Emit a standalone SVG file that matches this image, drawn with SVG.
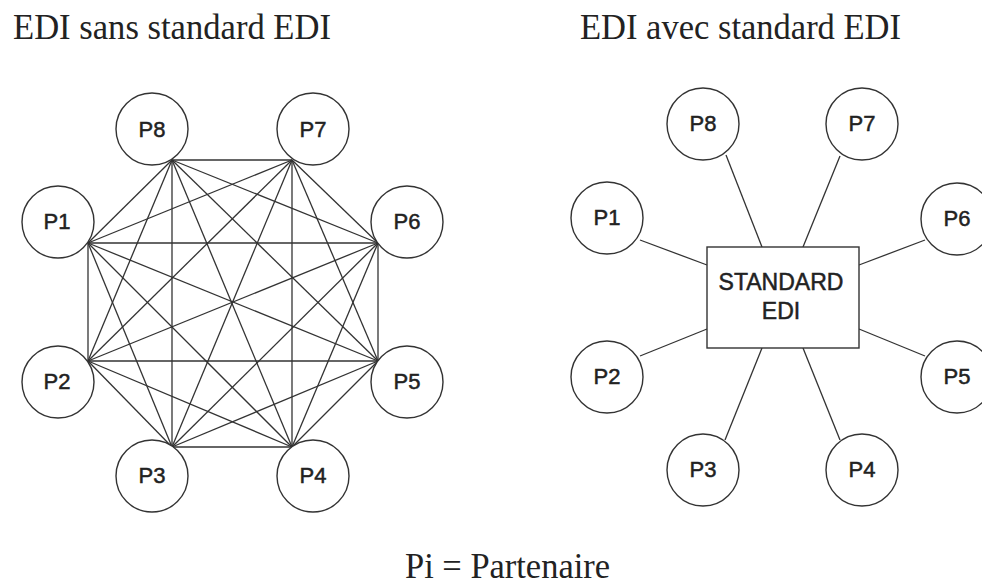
<svg xmlns="http://www.w3.org/2000/svg" width="982" height="583" viewBox="0 0 982 583">
<style>
.title{font-family:"Liberation Serif","Times New Roman",serif;font-size:35px;fill:#222}
.lbl{font-family:"Liberation Sans",Arial,sans-serif;font-size:22px;fill:#222;stroke:#222;stroke-width:0.5;text-anchor:middle}
.node circle{fill:#fff;stroke:#333;stroke-width:1.4}
.box{fill:#fff;stroke:#333;stroke-width:1.4}
.conn line{stroke:#333;stroke-width:1.3}
</style>
<rect width="982" height="583" fill="#fff"/>
<text class="title" x="13" y="39" textLength="318" lengthAdjust="spacingAndGlyphs">EDI sans standard EDI</text>
<text class="title" x="580" y="39" textLength="321" lengthAdjust="spacingAndGlyphs">EDI avec standard EDI</text>
<text class="title" x="405" y="578" textLength="205" lengthAdjust="spacingAndGlyphs">Pi = Partenaire</text>

<g id="connectors-left" class="conn">
<line x1="172" y1="160" x2="292" y2="160"/>
<line x1="172" y1="160" x2="88" y2="243"/>
<line x1="172" y1="160" x2="378" y2="243"/>
<line x1="172" y1="160" x2="88" y2="361"/>
<line x1="172" y1="160" x2="378" y2="361"/>
<line x1="172" y1="160" x2="172" y2="447"/>
<line x1="172" y1="160" x2="292" y2="447"/>
<line x1="292" y1="160" x2="88" y2="243"/>
<line x1="292" y1="160" x2="378" y2="243"/>
<line x1="292" y1="160" x2="88" y2="361"/>
<line x1="292" y1="160" x2="378" y2="361"/>
<line x1="292" y1="160" x2="172" y2="447"/>
<line x1="292" y1="160" x2="292" y2="447"/>
<line x1="88" y1="243" x2="378" y2="243"/>
<line x1="88" y1="243" x2="88" y2="361"/>
<line x1="88" y1="243" x2="378" y2="361"/>
<line x1="88" y1="243" x2="172" y2="447"/>
<line x1="88" y1="243" x2="292" y2="447"/>
<line x1="378" y1="243" x2="88" y2="361"/>
<line x1="378" y1="243" x2="378" y2="361"/>
<line x1="378" y1="243" x2="172" y2="447"/>
<line x1="378" y1="243" x2="292" y2="447"/>
<line x1="88" y1="361" x2="378" y2="361"/>
<line x1="88" y1="361" x2="172" y2="447"/>
<line x1="88" y1="361" x2="292" y2="447"/>
<line x1="378" y1="361" x2="172" y2="447"/>
<line x1="378" y1="361" x2="292" y2="447"/>
<line x1="172" y1="447" x2="292" y2="447"/>
</g>

<g id="connectors-right" class="conn">
<line x1="640" y1="240" x2="707" y2="265"/>
<line x1="726" y1="155" x2="762" y2="247"/>
<line x1="840" y1="156" x2="803" y2="247"/>
<line x1="925" y1="240" x2="859" y2="265"/>
<line x1="640" y1="356" x2="707" y2="329"/>
<line x1="925" y1="356" x2="859" y2="329"/>
<line x1="725" y1="440" x2="762" y2="348"/>
<line x1="840" y1="440" x2="803" y2="348"/>
</g>

<g id="L-P8" class="node"><circle cx="152" cy="129" r="36"/><text class="lbl" x="152" y="137">P8</text></g>
<g id="L-P7" class="node"><circle cx="313" cy="129" r="36"/><text class="lbl" x="313" y="137">P7</text></g>
<g id="L-P1" class="node"><circle cx="58" cy="222" r="36"/><text class="lbl" x="57" y="229">P1</text></g>
<g id="L-P6" class="node"><circle cx="407" cy="222" r="36"/><text class="lbl" x="407" y="229">P6</text></g>
<g id="L-P2" class="node"><circle cx="58" cy="382" r="36"/><text class="lbl" x="57" y="389">P2</text></g>
<g id="L-P5" class="node"><circle cx="407" cy="382" r="36"/><text class="lbl" x="407" y="389">P5</text></g>
<g id="L-P3" class="node"><circle cx="152" cy="476" r="36"/><text class="lbl" x="152" y="483">P3</text></g>
<g id="L-P4" class="node"><circle cx="313" cy="476" r="36"/><text class="lbl" x="313" y="483">P4</text></g>

<g id="R-STD" class="node"><rect class="box" x="707" y="247" width="152" height="101"/><text class="lbl" x="781" y="290" style="font-size:23px">STANDARD</text><text class="lbl" x="781" y="319" style="font-size:23px">EDI</text></g>
<g id="R-P8" class="node"><circle cx="703" cy="124" r="36"/><text class="lbl" x="703" y="131">P8</text></g>
<g id="R-P7" class="node"><circle cx="862" cy="124" r="36"/><text class="lbl" x="862" y="131">P7</text></g>
<g id="R-P1" class="node"><circle cx="607" cy="218" r="36"/><text class="lbl" x="607" y="225">P1</text></g>
<g id="R-P6" class="node"><circle cx="957" cy="219" r="36"/><text class="lbl" x="957" y="226">P6</text></g>
<g id="R-P2" class="node"><circle cx="607" cy="377" r="36"/><text class="lbl" x="607" y="384">P2</text></g>
<g id="R-P5" class="node"><circle cx="957" cy="377" r="36"/><text class="lbl" x="957" y="384">P5</text></g>
<g id="R-P3" class="node"><circle cx="703" cy="470" r="36"/><text class="lbl" x="703" y="477">P3</text></g>
<g id="R-P4" class="node"><circle cx="862" cy="470" r="36"/><text class="lbl" x="862" y="477">P4</text></g>
</svg>
